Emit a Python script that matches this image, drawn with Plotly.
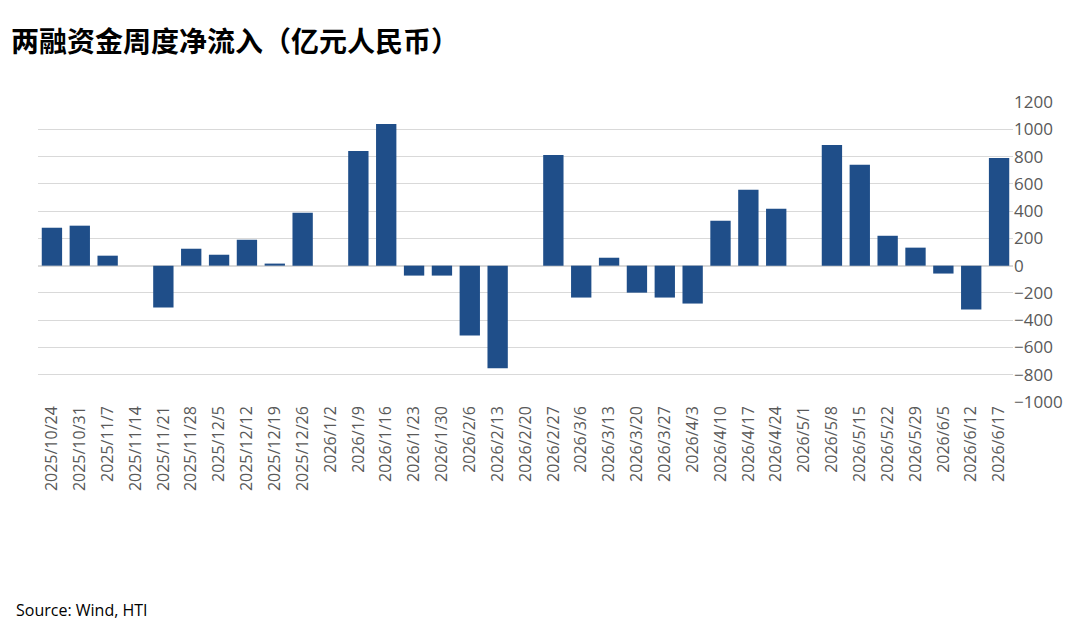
import plotly.graph_objects as go

weeks = ['2025/10/24', '2025/10/31', '2025/11/7', '2025/11/14', '2025/11/21', '2025/11/28',
         '2025/12/5', '2025/12/12', '2025/12/19', '2025/12/26', '2026/1/2', '2026/1/9',
         '2026/1/16', '2026/1/23', '2026/1/30', '2026/2/6', '2026/2/13', '2026/2/20',
         '2026/2/27', '2026/3/6', '2026/3/13', '2026/3/20', '2026/3/27', '2026/4/3',
         '2026/4/10', '2026/4/17', '2026/4/24', '2026/5/1', '2026/5/8', '2026/5/15',
         '2026/5/22', '2026/5/29', '2026/6/5', '2026/6/12', '2026/6/17']
net_inflow = [278, 293, 73, 0, -307, 124, 80, 190, 15, 388, 0, 841,
              1039, -73, -73, -512, -753, 0, 812, -234, 58, -198, -234, -278,
              329, 556, 417, 0, 885, 739, 219, 132, -58, -322, 790]
y_ticks = list(range(-1000, 1201, 200))

fig = go.Figure(go.Bar(x=weeks, y=net_inflow, marker_color='#1F4E89', marker_line_width=0))

fig.update_layout(
    width=1080, height=619,
    margin=dict(l=30, r=75, t=94, b=225),
    plot_bgcolor='white', paper_bgcolor='white',
    bargap=0.27, showlegend=False,
    font=dict(family='Noto Sans CJK SC, Calibri, sans-serif', color='#595959', size=17),
    annotations=[
        dict(text='<b>两融资金周度净流入（亿元人民币）</b>', x=-0.03, y=1.28, xref='paper', yref='paper',
             xanchor='left', yanchor='top', showarrow=False,
             font=dict(size=28, color='black', family='Noto Sans CJK SC')),
        dict(text='Source: Wind, HTI', x=-0.025, y=-0.735, xref='paper', yref='paper',
             xanchor='left', yanchor='bottom', showarrow=False,
             font=dict(size=16, color='black', family='Open Sans')),
    ],
)
fig.update_xaxes(tickangle=-90, showline=False, ticks='', type='category',
                 tickfont=dict(size=16, family='Open Sans'))
fig.update_yaxes(side='right', range=[-1000, 1200], tickvals=y_ticks,
                 gridcolor='#D9D9D9', zeroline=True, zerolinecolor='#D9D9D9',
                 tickfont=dict(size=17, family='Open Sans'))

fig.write_html("out.html")
